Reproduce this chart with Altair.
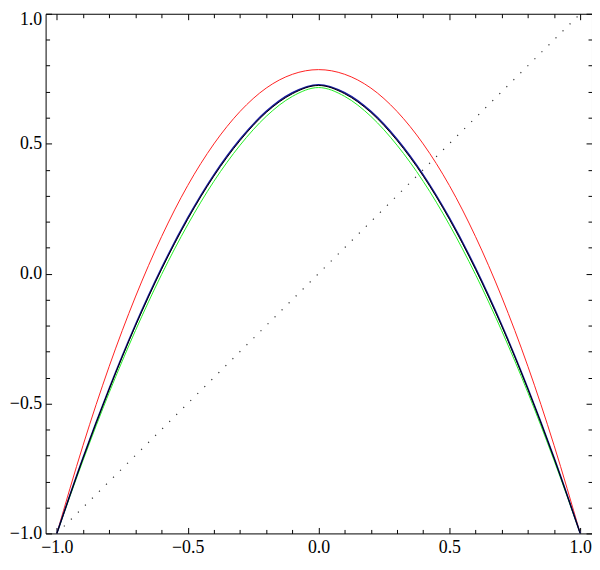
import altair as alt
import pandas as pd

# ---- data ----
xs = [-1.0, -0.9, -0.8, -0.7, -0.6, -0.5, -0.4, -0.3, -0.2, -0.1, 0.0,
      0.1, 0.2, 0.3, 0.4, 0.5, 0.6, 0.7, 0.8, 0.9, 1.0]
red_y = [-1.0, -0.661, -0.357, -0.090, 0.142, 0.339, 0.499, 0.624, 0.714, 0.767, 0.785,
         0.767, 0.714, 0.624, 0.499, 0.339, 0.142, -0.090, -0.357, -0.661, -1.0]
blue_y = [-1.0, -0.709, -0.442, -0.198, 0.021, 0.214, 0.380, 0.517, 0.624, 0.696, 0.727,
          0.696, 0.624, 0.517, 0.380, 0.214, 0.021, -0.198, -0.442, -0.709, -1.0]
black_y = [-1.0, -0.711, -0.445, -0.202, 0.016, 0.209, 0.375, 0.512, 0.620, 0.692, 0.724,
           0.692, 0.620, 0.512, 0.375, 0.209, 0.016, -0.202, -0.445, -0.711, -1.0]
green_y = [-1.0, -0.719, -0.458, -0.220, -0.004, 0.188, 0.355, 0.494, 0.605, 0.682, 0.716,
           0.682, 0.605, 0.494, 0.355, 0.188, -0.004, -0.220, -0.458, -0.719, -1.0]
diag_x = [-1.0, 1.0]
diag_y = [-1.0, 1.0]

major_ticks = [-1.0, -0.5, 0.0, 0.5, 1.0]
minor_ticks = [-0.9, -0.8, -0.7, -0.6, -0.4, -0.3, -0.2, -0.1,
               0.1, 0.2, 0.3, 0.4, 0.6, 0.7, 0.8, 0.9]

X_DOMAIN = [-1.043, 1.045]
Y_DOMAIN = [-1.0, 1.0]
FONT = "Liberation Serif"
LABEL_EXPR = "replace(datum.label, '-', '\u2212')"


def df(x, y):
    return pd.DataFrame({"x": x, "y": y})


def major_axis(orient, labels):
    kw = dict(orient=orient, values=major_ticks, tickSize=6, offset=-6,
              domain=False, grid=False, ticks=True, tickColor="black",
              tickWidth=1, title=None, labels=labels)
    if labels:
        kw.update(format=".1f", labelExpr=LABEL_EXPR, labelFont=FONT,
                  labelFontSize=18, labelColor="black", labelFlush=False,
                  labelOverlap=False, labelBound=False, labelPadding=4)
        if orient == "left":
            kw.update(labelOffset=alt.condition("datum.value == 1", alt.value(6), alt.value(0)))
        if orient == "bottom":
            kw.update(labelPadding=5)
    return alt.Axis(**kw)


def minor_axis(orient):
    return alt.Axis(orient=orient, values=minor_ticks, tickSize=4, offset=-4,
                    domain=False, grid=False, ticks=True, tickColor="black",
                    tickWidth=1, title=None, labels=False)


def enc_x(axis):
    return alt.X("x:Q", scale=alt.Scale(domain=X_DOMAIN, nice=False, zero=False), axis=axis)


def enc_y(axis):
    return alt.Y("y:Q", scale=alt.Scale(domain=Y_DOMAIN, nice=False, zero=False), axis=axis)


red = alt.Chart(df(xs, red_y)).mark_line(
    color="#ff2020", strokeWidth=1, interpolate="monotone"
).encode(x=enc_x(major_axis("bottom", True)), y=enc_y(major_axis("left", True)))

blue = alt.Chart(df(xs, blue_y)).mark_line(
    color="#1a1aa0", strokeWidth=1.6, interpolate="monotone"
).encode(x=enc_x(minor_axis("bottom")), y=enc_y(minor_axis("left")))

green = alt.Chart(df(xs, green_y)).mark_line(
    color="#22ee22", strokeWidth=1, interpolate="monotone"
).encode(x=enc_x(major_axis("top", False)), y=enc_y(major_axis("right", False)))

black = alt.Chart(df(xs, black_y)).mark_line(
    color="#000000", strokeWidth=1, interpolate="monotone"
).encode(x=enc_x(minor_axis("top")), y=enc_y(minor_axis("right")))

diag = alt.Chart(df(diag_x, diag_y)).mark_line(
    color="#333333", strokeWidth=1.2, strokeDash=[1.2, 8.8]
).encode(x=enc_x(None), y=enc_y(None))

chart = alt.layer(diag, red, green, blue, black).resolve_axis(
    x="independent", y="independent"
).properties(
    width=552, height=525,
    padding={"left": 38, "top": 3, "right": 0, "bottom": 20},
    autosize=alt.AutoSizeParams(type="none"),
).configure_view(stroke="black", strokeWidth=1)

chart.save("out.html", embed_options={"renderer": "svg", "actions": False})
